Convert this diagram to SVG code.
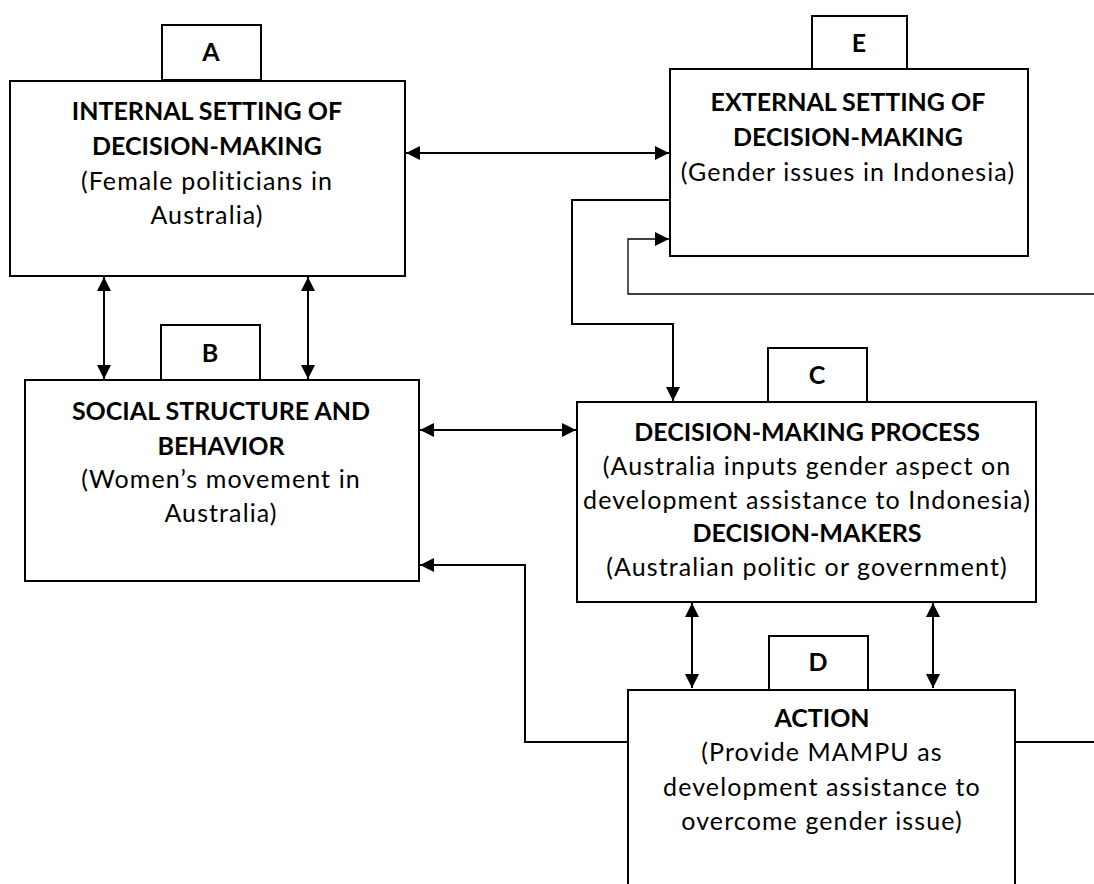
<svg xmlns="http://www.w3.org/2000/svg" width="1094" height="884" viewBox="0 0 1094 884">
<style>
.box{fill:#fff;stroke:#000;stroke-width:2}
.ln{fill:none;stroke:#000;stroke-width:2}
.thin{fill:none;stroke:#000;stroke-width:1.3}
text{font-family:Lato,"Liberation Sans",sans-serif;font-size:25px;fill:#000;text-anchor:middle}
.b{font-weight:bold}
.r{letter-spacing:1.1px}
</style>
<defs>
<marker id="ah" viewBox="0 0 14 14" refX="14" refY="7" markerWidth="14" markerHeight="14" markerUnits="userSpaceOnUse" orient="auto-start-reverse">
<path d="M0,0 L14,7 L0,14 Z" fill="#000"/>
</marker>
</defs>
<rect width="1094" height="884" fill="#fff"/>
<g id="connectors">
<line class="ln" x1="406" y1="153" x2="669" y2="153" marker-start="url(#ah)" marker-end="url(#ah)"/>
<line class="ln" x1="104" y1="277" x2="104" y2="379" marker-start="url(#ah)" marker-end="url(#ah)"/>
<line class="ln" x1="308" y1="277" x2="308" y2="379" marker-start="url(#ah)" marker-end="url(#ah)"/>
<line class="ln" x1="420" y1="430" x2="576" y2="430" marker-start="url(#ah)" marker-end="url(#ah)"/>
<line class="ln" x1="692" y1="603" x2="692" y2="688" marker-start="url(#ah)" marker-end="url(#ah)"/>
<line class="ln" x1="933" y1="603" x2="933" y2="688" marker-start="url(#ah)" marker-end="url(#ah)"/>
<polyline class="ln" points="670,200 572,200 572,324 673,324 673,401" marker-end="url(#ah)"/>
<polyline class="thin" points="1094,294 628,294 628,239 669,239" marker-end="url(#ah)"/>
<polyline class="ln" points="628,742 525,742 525,565 420,565" marker-end="url(#ah)"/>
<line class="ln" x1="1015" y1="742" x2="1094" y2="742"/>
</g>
<g id="node-A">
<rect class="box" x="162" y="25" width="99" height="55"/>
<text class="b" x="211" y="61">A</text>
<rect class="box" x="10" y="81" width="395" height="195"/>
<text class="b" x="207" y="120">INTERNAL SETTING OF</text>
<text class="b" x="207" y="155">DECISION-MAKING</text>
<text class="r" x="207" y="190">(Female politicians in</text>
<text class="r" x="207" y="224">Australia)</text>
</g>
<g id="node-E">
<rect class="box" x="812" y="16" width="95" height="53"/>
<text class="b" x="859" y="52">E</text>
<rect class="box" x="670" y="69" width="358" height="187"/>
<text class="b" x="848" y="111">EXTERNAL SETTING OF</text>
<text class="b" x="848" y="146">DECISION-MAKING</text>
<text class="r" x="848" y="181">(Gender issues in Indonesia)</text>
</g>
<g id="node-B">
<rect class="box" x="161" y="325" width="99" height="55"/>
<text class="b" x="210" y="362">B</text>
<rect class="box" x="25" y="380" width="394" height="201"/>
<text class="b" x="221" y="420">SOCIAL STRUCTURE AND</text>
<text class="b" x="221" y="455">BEHAVIOR</text>
<text class="r" x="221" y="488">(Women’s movement in</text>
<text class="r" x="221" y="522">Australia)</text>
</g>
<g id="node-C">
<rect class="box" x="768" y="348" width="99" height="54"/>
<text class="b" x="817" y="384">C</text>
<rect class="box" x="577" y="402" width="459" height="200"/>
<text class="b" x="807" y="441">DECISION-MAKING PROCESS</text>
<text class="r" x="807" y="475">(Australia inputs gender aspect on</text>
<text class="r" x="807" y="509">development assistance to Indonesia)</text>
<text class="b" x="807" y="542">DECISION-MAKERS</text>
<text class="r" x="807" y="576">(Australian politic or government)</text>
</g>
<g id="node-D">
<rect class="box" x="769" y="636" width="99" height="54"/>
<text class="b" x="818" y="671">D</text>
<path class="ln" d="M628,886 L628,690 L1015,690 L1015,886"/>
<text class="b" x="822" y="727">ACTION</text>
<text class="r" x="822" y="761">(Provide MAMPU as</text>
<text class="r" x="822" y="796">development assistance to</text>
<text class="r" x="822" y="830">overcome gender issue)</text>
</g>
</svg>
